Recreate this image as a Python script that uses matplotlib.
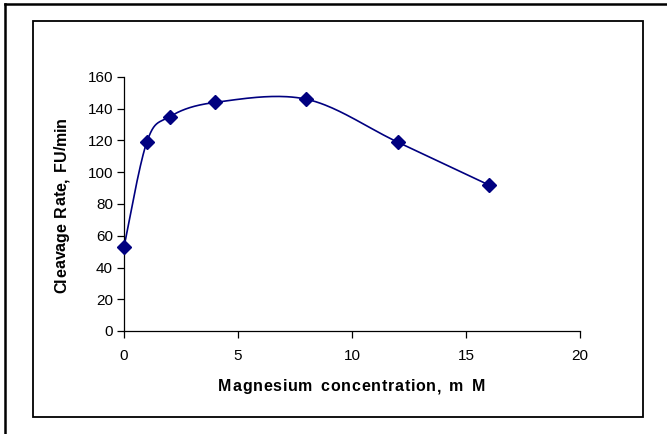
import numpy as np
import matplotlib
matplotlib.use("Agg")
import matplotlib.pyplot as plt
from matplotlib.lines import Line2D
from matplotlib.patches import Rectangle
from matplotlib.font_manager import FontProperties, findfont, get_font

plt.rcParams['font.family'] = ['Liberation Sans', 'DejaVu Sans']

# Data
mg_conc = [0, 1, 2, 4, 8, 12, 16]
cleavage_rate = [53, 119, 135, 144, 146, 119, 92]
x_ticks = [0, 5, 10, 15, 20]
y_ticks = [0, 20, 40, 60, 80, 100, 120, 140, 160]
x_label = 'Magnesium concentration, m M'
y_label = 'Cleavage Rate, FU/min'

W, H = 667, 434
DPI = 100
fig = plt.figure(figsize=(W / DPI, H / DPI), dpi=DPI)

def fx(px):
    return px / W

def fy(py):
    return 1 - py / H

# outer border (left and top only visible)
fig.add_artist(Line2D([fx(5), fx(5)], [fy(4), fy(434)], color='black', lw=1.8, transform=fig.transFigure))
fig.add_artist(Line2D([fx(5), fx(667)], [fy(4), fy(4)], color='black', lw=1.8, transform=fig.transFigure))
# inner chart area border
fig.add_artist(Rectangle((fx(33), fy(417)), fx(643) - fx(33), fy(21) - fy(417),
                         fill=False, edgecolor='black', lw=1.3, transform=fig.transFigure))

x0, x1 = 124, 580
y0, y1 = 331, 77
ax = fig.add_axes([fx(x0), fy(y0), fx(x1) - fx(x0), fy(y1) - fy(y0)])
ax.set_xlim(0, 20)
ax.set_ylim(0, 160)
for s in ['top', 'right']:
    ax.spines[s].set_visible(False)
for s in ['left', 'bottom']:
    ax.spines[s].set_linewidth(0.9)
    ax.spines[s].set_color('black')
ax.set_xticks(x_ticks)
ax.set_yticks(y_ticks)
ax.tick_params(direction='out', length=5, width=0.9, labelsize=11, colors='black')
ax.tick_params(axis='x', pad=8)
ax.tick_params(axis='y', pad=3)

# Excel-like smoothed curve (Bezier through points, computed in pixel space)
sx = (x1 - x0) / 20.0
sy = (y0 - y1) / 160.0
P = np.array([[x * sx, y * sy] for x, y in zip(mg_conc, cleavage_rate)])
n = len(P)
curve = []
t = np.linspace(0, 1, 40)
for i in range(n - 1):
    p0 = P[i]
    p3 = P[i + 1]
    prev = P[i - 1] if i > 0 else P[i]
    nxt = P[i + 2] if i + 2 < n else P[i + 1]
    c1 = p0 + (p3 - prev) / 6.0
    c2 = p3 - (nxt - p0) / 6.0
    seg = ((1 - t)[:, None] ** 3 * p0 + 3 * (1 - t)[:, None] ** 2 * t[:, None] * c1
           + 3 * (1 - t)[:, None] * t[:, None] ** 2 * c2 + t[:, None] ** 3 * p3)
    curve.append(seg)
curve = np.vstack(curve)
ax.plot(curve[:, 0] / sx, curve[:, 1] / sy, color='#000080', lw=1.2, clip_on=False)
ax.plot(mg_conc, cleavage_rate, linestyle='none', marker='D', markersize=7,
        color='#000080', clip_on=False, zorder=5)

# letter-spaced labels (glyph advances)
def spaced_text(s, cx, cy, size, spacing, word_extra, vertical=False):
    prop = FontProperties(family=['Liberation Sans', 'DejaVu Sans'], weight='bold', size=size)
    font = get_font(findfont(prop))
    font.set_size(size, DPI)
    advs = []
    for ch in s:
        g = font.load_char(ord(ch))
        a = g.linearHoriAdvance / 65536.0
        if ch == ' ':
            a += word_extra
        advs.append(a)
    offs = np.concatenate([[0.0], np.cumsum(advs)[:-1]]) + spacing * np.arange(len(s))
    total = sum(advs) + spacing * (len(s) - 1)
    for ch, o in zip(s, offs):
        if ch == ' ':
            continue
        off = o - total / 2
        if not vertical:
            fig.text(fx(cx + off), fy(cy), ch, fontproperties=prop, ha='left', va='baseline')
        else:
            fig.text(fx(cx), fy(cy - off), ch, fontproperties=prop, ha='left', va='baseline',
                     rotation=90, rotation_mode='anchor')

spaced_text(x_label, 351.5, 391, 11.5, 0.8, 2.0)
spaced_text(y_label, 66, 205, 11.5, 0.0, 2.0, vertical=True)

fig.savefig('out.png', dpi=DPI)
